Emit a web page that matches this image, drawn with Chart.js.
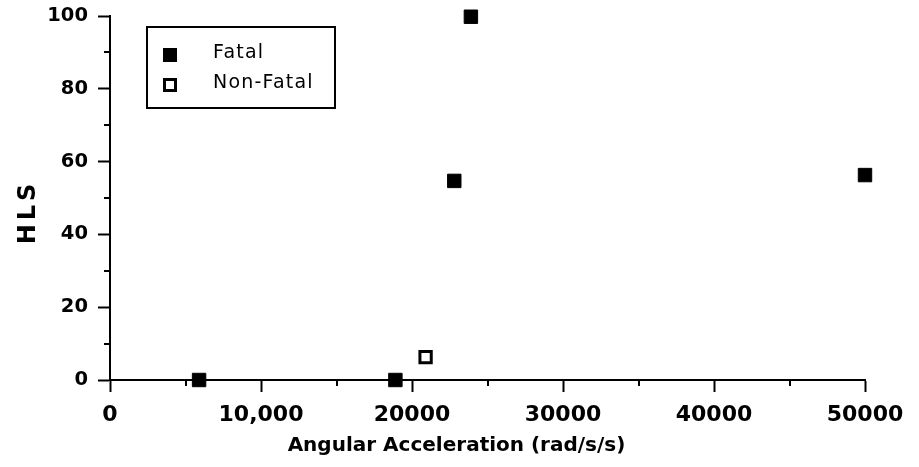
<!DOCTYPE html>
<html><head><meta charset="utf-8">
<script src="https://cdn.jsdelivr.net/npm/chart.js@4"></script>
<style>html,body{margin:0;padding:0;background:#fff}#wrap{width:919px;height:467px}</style>
</head><body><div id="wrap"><canvas id="c" width="919" height="467"></canvas></div>
<script>
const seriesNames = ['Fatal', 'Non-Fatal'];
const fatalX = [5900, 18900, 22800, 23900, 50000];
const fatalY = [0, 0, 54.7, 99.8, 56.3];
const nonFatalX = [20900];
const nonFatalY = [6.3];
const xTickValues = [0, 10000, 20000, 30000, 40000, 50000];
const xTickLabels = ['0', '10,000', '20000', '30000', '40000', '50000'];
const yTickValues = [0, 20, 40, 60, 80, 100];
const yTickLabels = ['0', '20', '40', '60', '80', '100'];
const xMinorTicks = [5000, 15000, 25000, 35000, 45000];
const yMinorTicks = [10, 30, 50, 70, 90];
const xTitle = 'Angular Acceleration (rad/s/s)';
const yTitle = 'HLS';

const toPts = (xs, ys) => xs.map((x, i) => ({ x: x, y: ys[i] }));

const minorTicksPlugin = {
  id: 'minorTicks',
  afterDraw(chart) {
    const ctx = chart.ctx, xs = chart.scales.x, ys = chart.scales.y, a = chart.chartArea;
    ctx.save();
    ctx.strokeStyle = '#000';
    ctx.lineWidth = 2;
    ctx.beginPath();
    xMinorTicks.forEach(v => { const p = Math.round(xs.getPixelForValue(v)); ctx.moveTo(p, a.bottom); ctx.lineTo(p, a.bottom + 6); });
    yMinorTicks.forEach(v => { const p = Math.round(ys.getPixelForValue(v)); ctx.moveTo(a.left - 6, p); ctx.lineTo(a.left, p); });
    ctx.stroke();
    ctx.restore();
  }
};

const boxLegendPlugin = {
  id: 'boxLegend',
  afterDraw(chart) {
    const ctx = chart.ctx, a = chart.chartArea;
    const L = a.left + 37, T = a.top + 11, W = 188, H = 81;
    ctx.save();
    ctx.strokeStyle = '#000';
    ctx.lineWidth = 2;
    ctx.strokeRect(L, T, W, H);
    const rows = [T + 28, T + 58];
    chart.data.datasets.forEach((ds, i) => {
      const cy = rows[i], cx = L + 23;
      if (i === 0) {
        ctx.fillStyle = '#000';
        ctx.fillRect(cx - 7, cy - 7, 14, 14);
      } else {
        ctx.fillStyle = '#fff';
        ctx.fillRect(cx - 6, cy - 6, 12, 12);
        ctx.lineWidth = 3;
        ctx.strokeStyle = '#000';
        ctx.strokeRect(cx - 5.5, cy - 5.5, 11, 11);
      }
      ctx.fillStyle = '#000';
      ctx.font = '19px "DejaVu Sans"';
      ctx.letterSpacing = '1.2px';
      ctx.textBaseline = 'alphabetic';
      ctx.textAlign = 'left';
      ctx.fillText(ds.label, L + 66, cy + 3);
    });
    ctx.restore();
  }
};

const patchPlugin = {
  id: 'patchTitles',
  afterUpdate(chart) {
    const xs = chart.scales.x, ys = chart.scales.y;
    if (!xs.__p) {
      const o = xs.drawTitle;
      xs.drawTitle = function () { const c = this.ctx; c.save(); c.translate(-31, 0); o.call(this); c.restore(); };
      xs.__p = true;
    }
    if (!ys.__p) {
      const o = ys.drawTitle;
      ys.drawTitle = function () { const c = this.ctx; c.save(); c.translate(0, 14); c.letterSpacing = '4px'; o.call(this); c.restore(); };
      ys.__p = true;
    }
  }
};

new Chart(document.getElementById('c'), {
  type: 'scatter',
  data: {
    datasets: [
      {
        label: seriesNames[0],
        data: toPts(fatalX, fatalY),
        pointStyle: 'rect',
        pointRadius: 9.5,
        pointHoverRadius: 9.5,
        backgroundColor: '#000',
        borderColor: '#000',
        borderWidth: 1,
        clip: false
      },
      {
        label: seriesNames[1],
        data: toPts(nonFatalX, nonFatalY),
        pointStyle: 'rect',
        pointRadius: 8,
        pointHoverRadius: 8,
        backgroundColor: '#fff',
        borderColor: '#000',
        borderWidth: 3,
        clip: false
      }
    ]
  },
  options: {
    responsive: false,
    devicePixelRatio: 1,
    animation: false,
    events: [],
    layout: { autoPadding: false, padding: { top: 16, right: 54, left: 0, bottom: 0 } },
    plugins: { legend: { display: false }, tooltip: { enabled: false } },
    scales: {
      x: {
        type: 'linear',
        min: 0, max: 50000,
        afterBuildTicks: s => { s.ticks = xTickValues.map(v => ({ value: v })); },
        afterFit: s => { s.height = 87; s.paddingLeft = 0; s.paddingRight = 0; },
        ticks: {
          callback: v => xTickLabels[xTickValues.indexOf(v)],
          font: { family: 'DejaVu Sans', weight: 'bold', size: 22 },
          color: '#000', padding: 10, maxRotation: 0, autoSkip: false
        },
        grid: { drawOnChartArea: false, drawTicks: true, tickLength: 12, tickWidth: 2, tickColor: '#000' },
        border: { display: true, color: '#000', width: 2 },
        title: {
          display: true, text: xTitle, color: '#000',
          font: { family: 'DejaVu Sans', weight: 'bold', size: 20 },
          padding: { top: 0, bottom: 9 }
        }
      },
      y: {
        type: 'linear',
        min: 0, max: 100,
        afterBuildTicks: s => { s.ticks = yTickValues.map(v => ({ value: v })); },
        afterFit: s => { s.width = 110; s.paddingTop = 0; s.paddingBottom = 0; },
        ticks: {
          callback: v => yTickLabels[yTickValues.indexOf(v)],
          font: { family: 'DejaVu Sans', weight: 'bold', size: 19.5 },
          color: '#000', padding: 10
        },
        grid: { drawOnChartArea: false, drawTicks: true, tickLength: 12, tickWidth: 2, tickColor: '#000' },
        border: { display: true, color: '#000', width: 2 },
        title: {
          display: true, text: yTitle, color: '#000',
          font: { family: 'DejaVu Sans', weight: 'bold', size: 24 },
          padding: { top: 14, bottom: 0 }
        }
      }
    }
  },
  plugins: [minorTicksPlugin, boxLegendPlugin, patchPlugin]
});
</script>
</body></html>
